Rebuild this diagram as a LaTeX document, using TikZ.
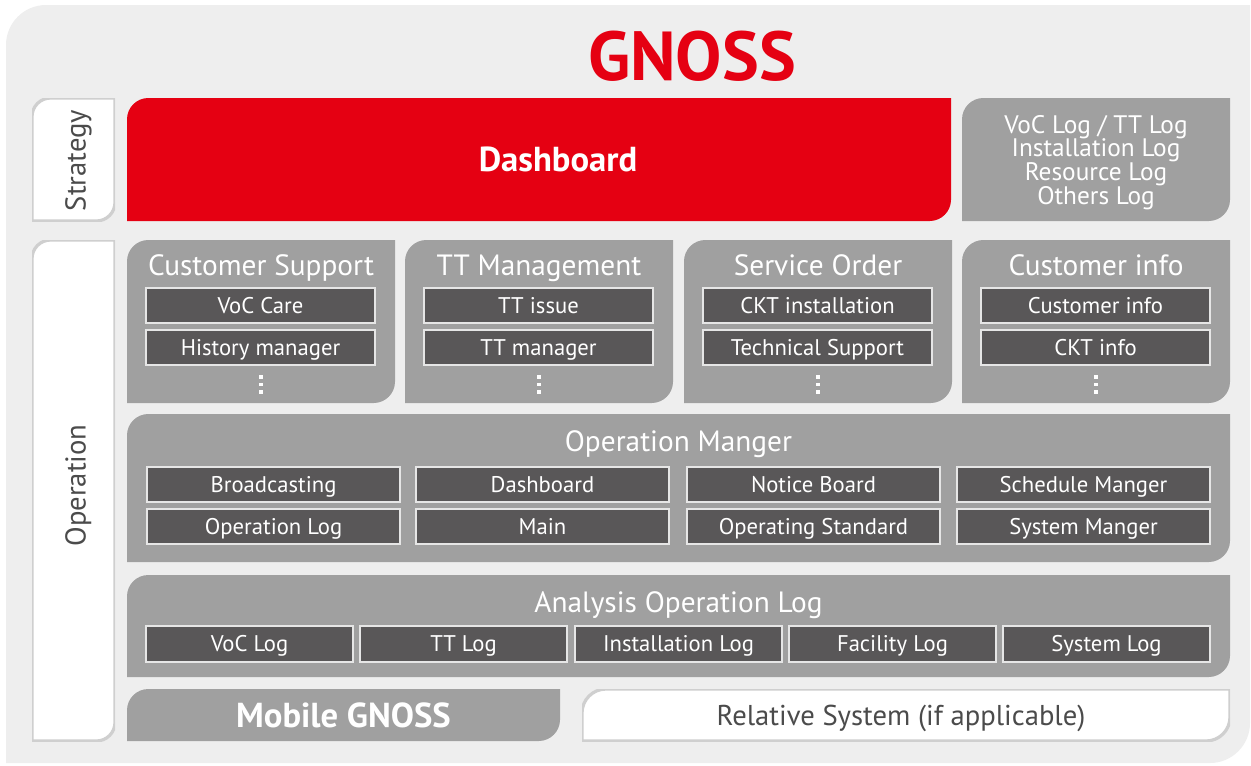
\documentclass[tikz,border=0pt]{standalone}
\usepackage{fontspec}
\setmainfont{PT Sans}
\usetikzlibrary{positioning}
\definecolor{bggray}{HTML}{EEEEEE}
\definecolor{panelgray}{HTML}{A0A0A0}
\definecolor{itemgray}{HTML}{595758}
\definecolor{itemline}{HTML}{E6E6E6}
\definecolor{tabline}{HTML}{CFCFCF}
\definecolor{tabgray}{HTML}{4B4B4B}
\definecolor{gnossred}{HTML}{E50012}
\tikzset
{
    leaf radius/.store in=\leafr,
    leaf radius=16pt,
    leaf/.style      = {path picture={\path[#1] ([yshift=-\leafr]path picture bounding box.north west) arc[start angle=180, end angle=90, radius=\leafr] -| ([yshift=\leafr]path picture bounding box.south east) arc[start angle=0, end angle=-90, radius=\leafr] -- (path picture bounding box.south west) -- cycle;}},
    boxsize/.style 2 args = {minimum width=#1*0.75pt, minimum height=#2*0.75pt},
    capsize/.style   = {font=\fontsize{#1}{#1}\selectfont, text height=0.7*#1pt, text depth=0pt},
    capbold/.style   = {font=\fontsize{#1}{#1}\selectfont\bfseries, text height=0.7*#1pt, text depth=0pt},
    box/.style       = {rectangle, anchor=north west, inner sep=0pt, outer sep=0pt},
    panel/.style     = {box, leaf={fill=#1}},
    panel/.default   = panelgray,
    tab/.style       = {box, leaf={fill=white, draw=tabline, line width=2.4pt}, leaf radius=14pt},
    item/.style      = {box, fill=itemgray, draw=itemline, line width=1.1pt, text=white, capsize=17},
    ptitle/.style    = {text=white, capsize=22, inner sep=0pt},
    tabtext/.style   = {text=tabgray, capsize=21.5, rotate=90, inner sep=0pt},
}
\begin{document}
\begin{tikzpicture}[x=0.75pt, y=0.75pt]
  \newcommand\DOTS[1]{%
    \fill[white] ([shift=({-1.75,-135.25})]#1.north) rectangle +(3.5,-3.5);
    \fill[white] ([shift=({-1.75,-142.75})]#1.north) rectangle +(3.5,-3.5);
    \fill[white] ([shift=({-1.75,-150.25})]#1.north) rectangle +(3.5,-3.5);}
  \useasboundingbox (0,0) rectangle (1251,-765);

  \node (bg)  [box, boxsize={1244}{758}, leaf={fill=bggray}, leaf radius=30pt] at (6,-5) {};
  \node (gn)  [text=gnossred, capbold=52, inner sep=0pt] at (692,-56) {GNOSS};

  % strategy
  \node (st)  [tab, boxsize={83}{123}]                   at (32,-98)   {};
  \node (stt) [tabtext]                                  at ([shift=({2,-1})]st.center) {Strategy};
  \node (db)  [panel=gnossred, boxsize={824}{123}]       at (127,-98)  {};
  \node (dbt) [text=white, capbold=26, inner sep=0pt]    at ([shift=({19,0})]db.center) {Dashboard};
  \node (lg)  [panel, boxsize={268}{123}]                at (962,-98)  {};
  \node (lgt) [align=center, text=white, font=\fontsize{19}{17.8}\selectfont, inner sep=0pt]
                                                         at ([shift=({0,-3})]lg.center) {VoC Log / TT Log\\Installation Log\\Resource Log\\Others Log};

  % operation
  \node (op)  [tab, boxsize={83}{501}]                   at (32,-240)  {};
  \node (opt) [tabtext]                                  at ([shift=({2,5})]op.center) {Operation};

  \node (cs)  [panel, boxsize={268}{163}]                at (127,-240) {};
  \node (tm)  [panel, boxsize={268}{163}]                at (405,-240) {};
  \node (so)  [panel, boxsize={268}{163}]                at (684,-240) {};
  \node (ci)  [panel, boxsize={268}{163}]                at (962,-240) {};

  \node (cst) [ptitle] at ([shift=({0,-25.5})]cs.north) {Customer Support};
  \node (tmt) [ptitle] at ([shift=({0,-25.5})]tm.north) {TT Management};
  \node (sot) [ptitle] at ([shift=({0,-25.5})]so.north) {Service Order};
  \node (cit) [ptitle] at ([shift=({0,-25.5})]ci.north) {Customer info};

  \node (cs1) [item, boxsize={229}{35}] at ([shift=({19,-48})]cs.north west) {VoC Care};
  \node (cs2) [item, boxsize={229}{35}] at ([shift=({19,-90})]cs.north west) {History manager};
  \node (tm1) [item, boxsize={229}{35}] at ([shift=({19,-48})]tm.north west) {TT issue};
  \node (tm2) [item, boxsize={229}{35}] at ([shift=({19,-90})]tm.north west) {TT manager};
  \node (so1) [item, boxsize={229}{35}] at ([shift=({19,-48})]so.north west) {CKT installation};
  \node (so2) [item, boxsize={229}{35}] at ([shift=({19,-90})]so.north west) {Technical Support};
  \node (ci1) [item, boxsize={229}{35}] at ([shift=({19,-48})]ci.north west) {Customer info};
  \node (ci2) [item, boxsize={229}{35}] at ([shift=({19,-90})]ci.north west) {CKT info};

  \DOTS{cs}
  \DOTS{tm}
  \DOTS{so}
  \DOTS{ci}

  % operation manger
  \node (om)  [panel, boxsize={1103}{148}] at (127,-414) {};
  \node (omt) [ptitle] at ([shift=({0,-27})]om.north) {Operation Manger};
  \node (om1) [item, boxsize={253}{35}] at ([shift=({20,-53})]om.north west)  {Broadcasting};
  \node (om2) [item, boxsize={253}{35}] at ([shift=({289,-53})]om.north west) {Dashboard};
  \node (om3) [item, boxsize={253}{35}] at ([shift=({560,-53})]om.north west) {Notice Board};
  \node (om4) [item, boxsize={253}{35}] at ([shift=({830,-53})]om.north west) {Schedule Manger};
  \node (om5) [item, boxsize={253}{35}] at ([shift=({20,-95})]om.north west)  {Operation Log};
  \node (om6) [item, boxsize={253}{35}] at ([shift=({289,-95})]om.north west) {Main};
  \node (om7) [item, boxsize={253}{35}] at ([shift=({560,-95})]om.north west) {Operating Standard};
  \node (om8) [item, boxsize={253}{35}] at ([shift=({830,-95})]om.north west) {System Manger};

  % analysis operation log
  \node (al)  [panel, boxsize={1103}{102}] at (127,-575) {};
  \node (alt) [ptitle] at ([shift=({0,-27})]al.north) {Analysis Operation Log};
  \node (al1) [item, boxsize={207}{36}] at ([shift=({19,-51})]al.north west)  {VoC Log};
  \node (al2) [item, boxsize={207}{36}] at ([shift=({233,-51})]al.north west) {TT Log};
  \node (al3) [item, boxsize={207}{36}] at ([shift=({448,-51})]al.north west) {Installation Log};
  \node (al4) [item, boxsize={207}{36}] at ([shift=({662,-51})]al.north west) {Facility Log};
  \node (al5) [item, boxsize={207}{36}] at ([shift=({876,-51})]al.north west) {System Log};

  % bottom row
  \node (mg)  [panel, boxsize={433}{52}, text=white, capbold=26]   at (127,-689) {Mobile GNOSS};
  \node (rs)  [tab, leaf radius=18pt, boxsize={648}{52}]           at (582,-689) {};
  \node (rst) [text=tabgray, capsize=21.5, inner sep=0pt]          at ([shift=({-5,0})]rs.center) {Relative System (if applicable)};
\end{tikzpicture}
\end{document}
